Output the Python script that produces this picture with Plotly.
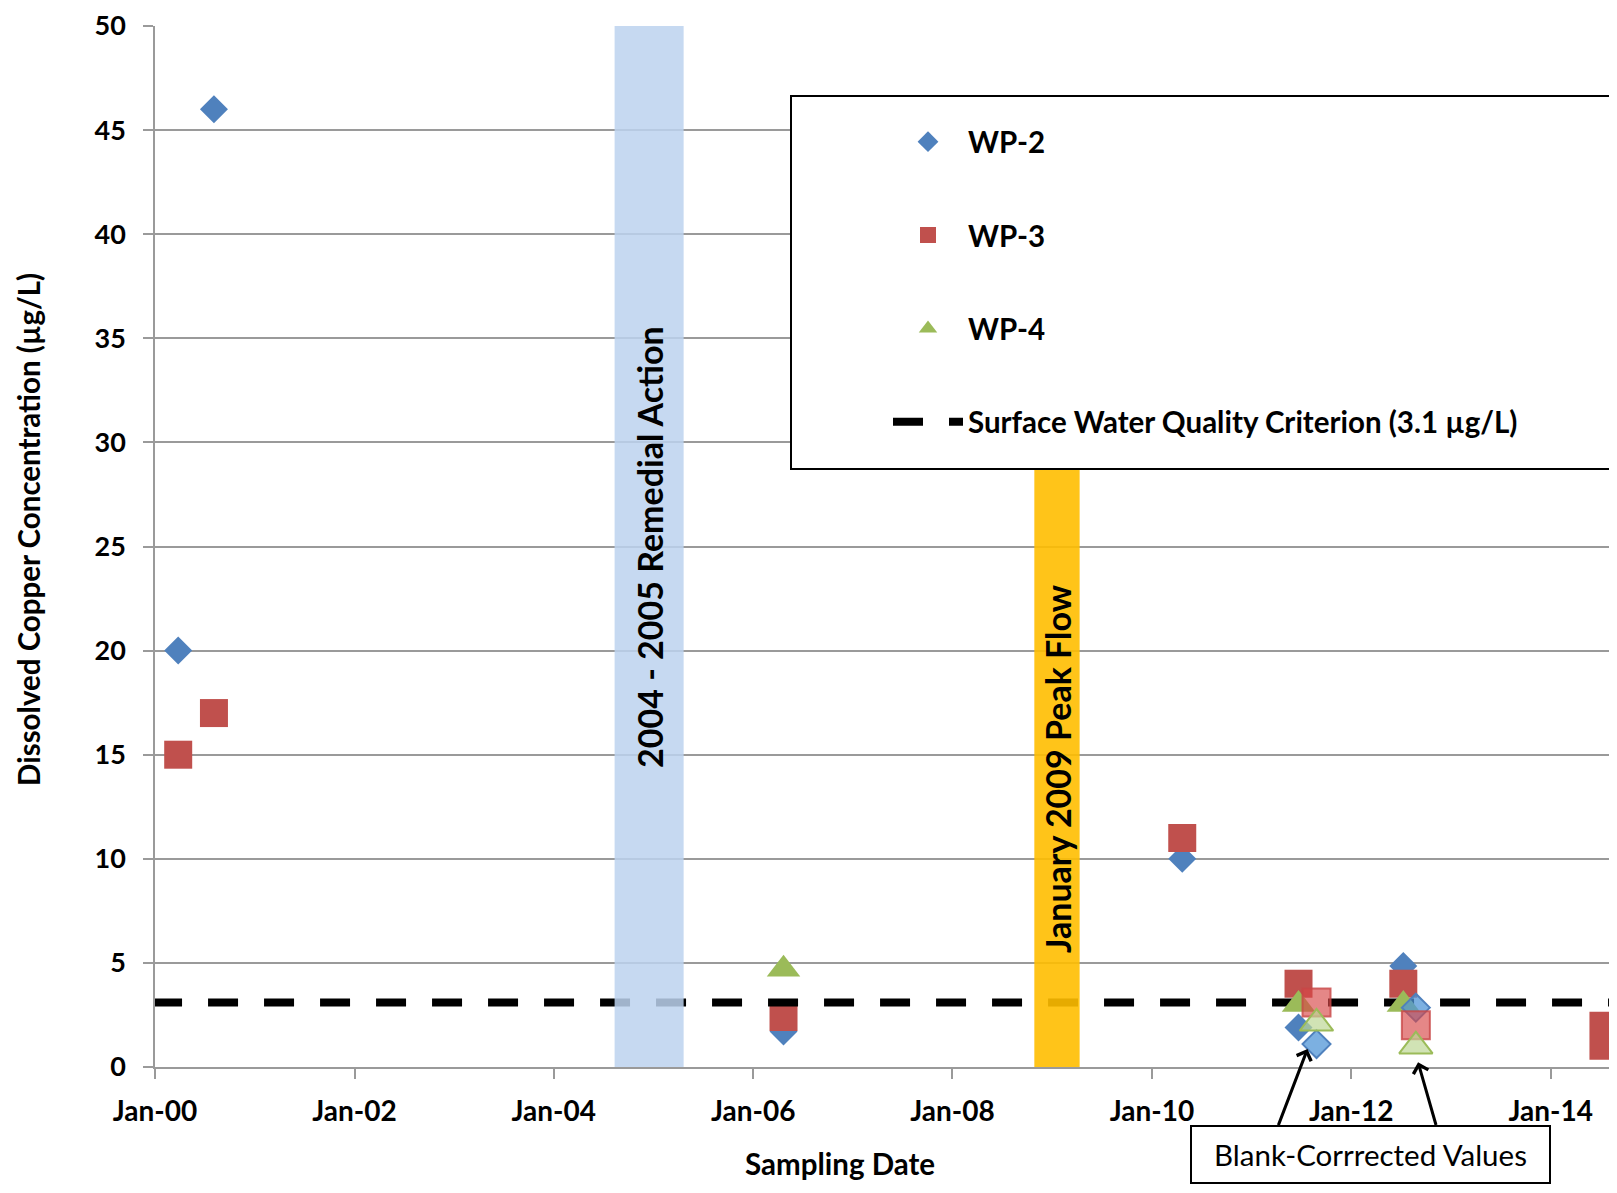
import plotly.graph_objects as go

# ---------------- data ----------------
dates_wp2 = ["2000-03-26", "2000-08-04", "2006-04-22", "2010-04-22", "2011-06-22", "2012-07-10"]
cu_wp2 = [20.0, 46.0, 1.7, 10.0, 1.9, 4.85]

dates_wp3 = ["2000-03-26", "2000-08-04", "2006-04-22", "2010-04-22", "2011-06-22", "2012-07-10", "2014-08-19"]
cu_wp3 = [15.0, 17.0, 2.4, 11.0, 4.0, 4.0, 1.5]

dates_wp4 = ["2006-04-22", "2011-06-22", "2012-07-10"]
cu_wp4 = [4.7, 3.0, 3.0]

# blank-corrected values
dates_bc = ["2011-08-27", "2012-08-25"]
bc_wp2 = [1.1, 2.85]
bc_wp3 = [3.1, 2.0]
bc_wp4 = [2.1, 1.0]

criterion_value = 3.1
x_range = ["2000-01-01", "2014-09-01"]
criterion_x = ["1999-05-30", "2015-06-01"]
y_range = [0, 50]

remedial_band = ["2004-08-11", "2005-04-21"]
peakflow_band = ["2008-10-27", "2009-04-11"]

arrow_tips_x = ["2011-07-25", "2012-09-02"]
arrow_tips_y = [0.87, 0.23]

# ---------------- style ----------------
BLUE = "#4F81BD"
RED = "#C0504D"
GREEN = "#9BBB59"
FONT = "Lato"
GRID = "#9A9A9A"

fig = go.Figure()

fig.add_trace(go.Scatter(
    x=dates_wp2, y=cu_wp2, mode="markers", name="WP-2",
    marker=dict(symbol="diamond", size=21.5, color=BLUE, opacity=1, line=dict(width=0)),
    legendgroup="a", legendrank=1))

sizes_wp3 = [28] * (len(cu_wp3) - 1) + [48]
fig.add_trace(go.Scatter(
    x=dates_wp3, y=cu_wp3, mode="markers", name="WP-3",
    marker=dict(symbol="square", size=sizes_wp3, color=RED, opacity=1, line=dict(width=0)),
    legendgroup="b", legendrank=2))

fig.add_trace(go.Scatter(
    x=criterion_x, y=[criterion_value] * len(criterion_x), mode="lines",
    name="Surface Water Quality Criterion (3.1 µg/L)",
    line=dict(color="black", width=8, dash="30px,26px"),
    legendgroup="d", legendrank=4))

fig.add_trace(go.Scatter(
    x=dates_wp4, y=cu_wp4, mode="markers", name="WP-4",
    marker=dict(symbol="triangle-up", size=29, color=GREEN, opacity=1, line=dict(width=0)),
    legendgroup="c", legendrank=3))

fig.add_trace(go.Scatter(
    x=dates_bc, y=bc_wp2, mode="markers", showlegend=False,
    marker=dict(symbol="diamond", size=21.5, color="rgba(80,150,215,0.75)",
                line=dict(width=2, color=BLUE))))
fig.add_trace(go.Scatter(
    x=dates_bc, y=bc_wp3, mode="markers", showlegend=False,
    marker=dict(symbol="square", size=28, color="rgba(215,70,70,0.65)",
                line=dict(width=2, color="rgba(200,70,70,0.8)"))))
fig.add_trace(go.Scatter(
    x=dates_bc, y=bc_wp4, mode="markers", showlegend=False,
    marker=dict(symbol="triangle-up", size=29, color="rgba(190,215,150,0.7)",
                line=dict(width=2, color=GREEN))))

# page geometry (the page body adds an 8px offset on every side)
OFF = 8
W, H = 1617 - OFF, 1193 - 2 * OFF
PL, PT, PR, PB = 155, 26, 1617, 1067   # plot area edges on the page
L, T = PL - OFF, PT - OFF
R = W - (PR - OFF)
B = H - (PB - OFF)
plot_w = PR - PL
plot_h = PB - PT

def px_x(p):
    return (p - PL) / plot_w

def px_y(p):
    return (PB - p) / plot_h

shapes = [
    dict(type="rect", xref="x", yref="y", x0=remedial_band[0], x1=remedial_band[1], y0=0, y1=50,
         fillcolor="rgb(188,210,238)", opacity=0.85, line=dict(width=0), layer="above"),
    dict(type="rect", xref="x", yref="y", x0=peakflow_band[0], x1=peakflow_band[1], y0=0, y1=30,
         fillcolor="rgb(255,190,0)", opacity=0.9, line=dict(width=0), layer="above"),
    dict(type="rect", xref="paper", yref="paper", x0=px_x(791), x1=px_x(1640), y0=px_y(469), y1=px_y(96),
         fillcolor="white", line=dict(color="black", width=2), layer="above"),
]

annotations = [
    dict(text="<b>Dissolved Copper Concentration (µg/L)</b>", xref="paper", yref="paper",
         x=px_x(28), y=px_y(530), textangle=-90, showarrow=False,
         font=dict(family=FONT, size=29.5, color="black"), xanchor="center", yanchor="middle"),
    dict(text="<b>Sampling Date</b>", xref="paper", yref="paper",
         x=px_x(840), y=px_y(1163), showarrow=False,
         font=dict(family=FONT, size=29.5, color="black"), xanchor="center", yanchor="middle"),
    dict(text="<b>2004 - 2005 Remedial Action</b>", xref="paper", yref="paper",
         x=px_x(649), y=px_y(547), textangle=-90, showarrow=False,
         font=dict(family=FONT, size=34, color="black"), xanchor="center", yanchor="middle"),
    dict(text="<b>January 2009 Peak Flow</b>", xref="paper", yref="paper",
         x=px_x(1058), y=px_y(769), textangle=-90, showarrow=False,
         font=dict(family=FONT, size=34, color="black"), xanchor="center", yanchor="middle"),
    dict(text="Blank-Corrrected Values", xref="paper", yref="paper",
         x=px_x(1370.5), y=px_y(1154.5), showarrow=False, width=355, height=53,
         bgcolor="white", bordercolor="black", borderwidth=2, borderpad=1,
         font=dict(family=FONT, size=29.5, color="black"), xanchor="center", yanchor="middle"),
]
tails = [(-29.7, 77.7), (18.4, 64.3)]
for tx, ty, (axp, ayp) in zip(arrow_tips_x, arrow_tips_y, tails):
    annotations.append(dict(text="", x=tx, y=ty, xref="x", yref="y", ax=axp, ay=ayp,
                            showarrow=True, arrowhead=4, arrowsize=1, arrowwidth=3,
                            arrowcolor="black"))

fig.update_layout(
    width=W, height=H,
    margin=dict(l=L, r=R, t=T, b=B, pad=0, autoexpand=False),
    paper_bgcolor="white", plot_bgcolor="white",
    font=dict(family=FONT, color="black"),
    showlegend=True,
    legend=dict(x=px_x(888), y=px_y(116), xanchor="left", yanchor="top",
                bgcolor="rgba(0,0,0,0)", borderwidth=0, tracegroupgap=52,
                font=dict(family=FONT, size=29.5, color="black", weight="bold"),
                itemwidth=70),
    shapes=shapes,
    annotations=annotations,
)

fig.update_xaxes(
    type="date", range=x_range, tick0="2000-01-01", dtick="M24", tickformat="%b-%y",
    showgrid=False, zeroline=False, showline=True, linecolor=GRID, linewidth=1.5,
    ticks="outside", ticklen=10, tickwidth=1.5, tickcolor=GRID, ticklabelstandoff=9,
    ticklabeloverflow="allow", automargin=False,
    tickfont=dict(family=FONT, size=28, color="black", weight="bold"),
)
fig.update_yaxes(
    range=y_range, tick0=0, dtick=5,
    showgrid=True, gridcolor=GRID, gridwidth=1.5,
    zeroline=False, showline=True, linecolor=GRID, linewidth=1.5,
    ticks="outside", ticklen=10, tickwidth=1.5, tickcolor=GRID, ticklabelstandoff=12,
    ticklabeloverflow="allow", automargin=False,
    tickfont=dict(family=FONT, size=27, color="black", weight="bold"),
)

fig.write_html("out.html")
